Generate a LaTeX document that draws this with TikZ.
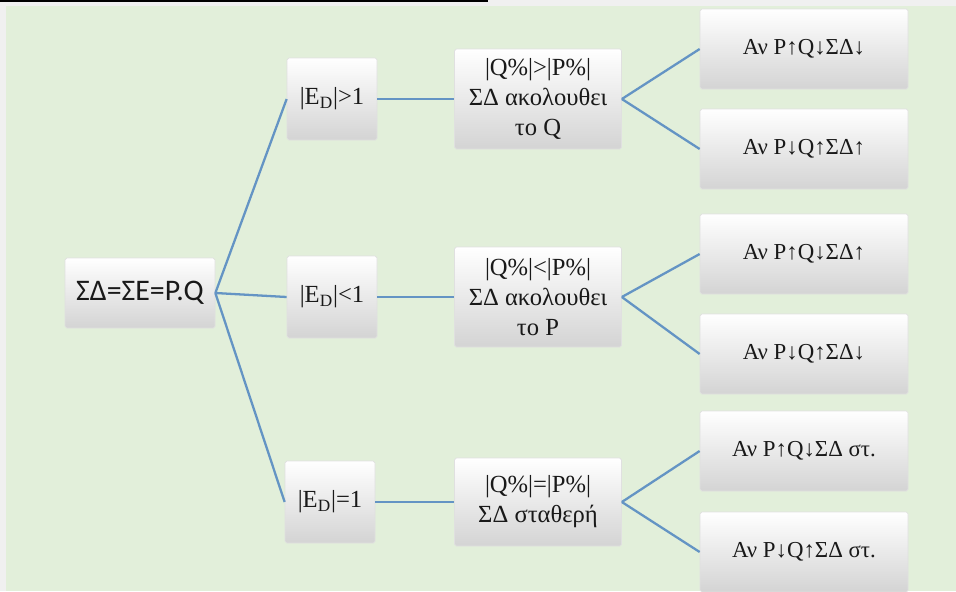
\documentclass[tikz,border=0pt]{standalone}
\usepackage{fontspec}
\setmainfont{Liberation Serif}
\newfontfamily\calibri{Carlito}
\usepackage{tikz}
\definecolor{fond}{RGB}{226,239,218}
\definecolor{gris}{RGB}{240,240,240}
\definecolor{trait}{RGB}{100,148,196}
\tikzstyle{boite}=[rectangle,rounded corners=1pt,draw=black!12,
top color=white,middle color=white,bottom color=black!17,
text=black!90,align=center,inner sep=2pt]
\tikzstyle{racine}=[boite,minimum width=3cm,minimum height=1.4cm,
font=\calibri\fontsize{17}{19}\selectfont]
\tikzstyle{elast}=[boite,minimum width=1.8cm,minimum height=1.64cm,
font=\fontsize{14}{17}\selectfont]
\tikzstyle{cas}=[boite,minimum width=3.34cm,minimum height=2cm,
font=\fontsize{14}{17}\selectfont]
\tikzstyle{feuille}=[boite,minimum width=4.16cm,minimum height=1.6cm,
font=\fontsize{13}{15}\selectfont]
\tikzstyle{lien}=[draw=trait,line width=1.3pt]

\begin{document}
\begin{tikzpicture}
      \useasboundingbox (0,0) rectangle (19.12,11.82);
      \fill[gris] (0,0) rectangle (19.12,11.82);
      \fill[fond] (0.12,0) rectangle (19.12,11.7);
      \fill[black] (0,11.79) rectangle (9.76,11.82);

      \node[racine] (R) at (2.8,5.96) {ΣΔ=ΣΕ=P.Q};

      \node[elast] (E1) at (6.64,9.84) {|E\textsubscript{D}|>1};
      \node[elast] (E2) at (6.64,5.88) {|E\textsubscript{D}|<1};
      \node[elast] (E3) at (6.6,1.78) {|E\textsubscript{D}|=1};

      \node[cas] (M1) at (10.76,9.84) {|Q\%|>|P\%|\\ΣΔ ακολουθει\\το Q};
      \node[cas] (M2) at (10.76,5.88) {|Q\%|<|P\%|\\ΣΔ ακολουθει\\το P};
      \node[cas,minimum height=1.76cm] (M3) at (10.76,1.78) {|Q\%|=|P\%|\\ΣΔ σταθερή};

      \node[feuille] (A1) at (16.08,10.84) {Αν P↑Q↓ΣΔ↓};
      \node[feuille] (A2) at (16.08,8.84) {Αν P↓Q↑ΣΔ↑};
      \node[feuille] (A3) at (16.08,6.74) {Αν P↑Q↓ΣΔ↑};
      \node[feuille] (A4) at (16.08,4.74) {Αν P↓Q↑ΣΔ↓};
      \node[feuille] (A5) at (16.08,2.8) {Αν P↑Q↓ΣΔ στ.};
      \node[feuille] (A6) at (16.08,0.78) {Αν P↓Q↑ΣΔ στ.};

      \draw[lien] (R.east) -- (E1.west);
      \draw[lien] (R.east) -- (E2.west);
      \draw[lien] (R.east) -- (E3.west);
      \draw[lien] (E1.east) -- (M1.west);
      \draw[lien] (E2.east) -- (M2.west);
      \draw[lien] (E3.east) -- (M3.west);
      \draw[lien] (M1.east) -- (A1.west);
      \draw[lien] (M1.east) -- (A2.west);
      \draw[lien] (M2.east) -- (A3.west);
      \draw[lien] (M2.east) -- (A4.west);
      \draw[lien] (M3.east) -- (A5.west);
      \draw[lien] (M3.east) -- (A6.west);
\end{tikzpicture}
\end{document}
